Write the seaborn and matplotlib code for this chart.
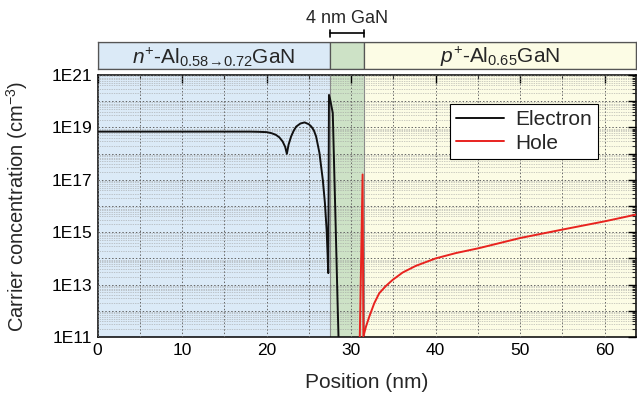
import numpy as np
import pandas as pd
import matplotlib
matplotlib.use("Agg")
import matplotlib.pyplot as plt
import matplotlib.ticker as mticker
import matplotlib.transforms as mtransforms
import seaborn as sns

# ---------------- data ----------------
electron_x = [0, 5, 10, 15, 18, 19, 20.0, 20.6, 21.1, 21.5, 21.9, 22.2, 22.4, 22.6, 22.9,
              23.2, 23.5, 24.0, 24.5, 25.0, 25.3, 25.6, 25.86, 26.25, 26.65, 26.9, 27.1,
              27.2, 27.3, 27.38, 27.5, 27.83, 28.0, 28.2, 28.4, 28.55]
electron_n = [6.9e18, 6.9e18, 6.9e18, 6.9e18, 6.9e18, 6.8e18, 6.6e18, 6.0e18, 5.2e18, 4.2e18,
              2.9e18, 1.8e18, 9.8e17, 2.2e18, 4.5e18, 7.4e18, 1.07e19, 1.41e19, 1.55e19,
              1.32e19, 1.07e19, 7.6e18, 4.5e18, 1.07e18, 1.0e17, 1.3e16, 1.26e15, 2.0e14,
              2.75e13, 1.74e20, 1.26e20, 3.55e19, 2.5e17, 7.9e14, 2.0e12, 3.2e10]

hole_x = [31.0, 31.36, 31.45, 31.76, 32.15, 32.74, 33.33, 34.12, 34.9, 36.1, 37.66, 40.0,
          42.4, 45.1, 50.0, 55.0, 60.0, 63.7]
hole_n = [3.2e10, 1.6e17, 1.05e11, 2.5e11, 6.0e11, 1.95e12, 4.7e12, 8.9e12, 1.5e13, 2.9e13,
          5.2e13, 1.0e14, 1.6e14, 2.45e14, 6.0e14, 1.26e15, 2.6e15, 4.7e15]

regions = ["n", "GaN", "p"]
region_start = [0, 27.5, 31.5]
region_end = [27.5, 31.5, 63.7]
region_labels = [r"$\mathit{n}^{+}$-Al$_{0.58\!\rightarrow\!0.72}$GaN", "",
                 r"$\mathit{p}^{+}$-Al$_{0.65}$GaN"]
region_colors = ["#dbeaf7", "#cde2c6", "#fcfce5"]

x_ticks = [0, 10, 20, 30, 40, 50, 60]
y_label_exps = [11, 13, 15, 17, 19, 21]

# ---------------- style ----------------
sns.set_style("white")
plt.rcParams["font.family"] = ["Liberation Sans", "DejaVu Sans"]
plt.rcParams["mathtext.fontset"] = "custom"
plt.rcParams["mathtext.rm"] = "Liberation Sans"
plt.rcParams["mathtext.it"] = "Liberation Sans:italic"
plt.rcParams["mathtext.bf"] = "Liberation Sans:bold"

fig = plt.figure(figsize=(6.37, 3.99), dpi=100)
fig.patch.set_facecolor("white")

ax = fig.add_axes([0.1531, 0.1554, 0.8453, 0.6566])
bar = fig.add_axes([0.1531, 0.8271, 0.8453, 0.0677])

xmax = region_end[-1]
ax.set_yscale("log")
ax.set_xlim(0, xmax)
ax.set_ylim(1e11, 1e21)

for s, e, c in zip(region_start, region_end, region_colors):
    ax.axvspan(s, e, color=c, zorder=0, lw=0)
    bar.axvspan(s, e, facecolor=c, edgecolor="#555555", lw=0.9, zorder=0)
for xv in region_start[1:]:
    ax.axvline(xv, color="#8a8a8a", lw=0.8, zorder=0.5)

df_e = pd.DataFrame({"Position": electron_x, "n": electron_n, "Carrier": "Electron"})
df_h = pd.DataFrame({"Position": hole_x, "n": hole_n, "Carrier": "Hole"})
df = pd.concat([df_e, df_h], ignore_index=True)

sns.lineplot(data=df, x="Position", y="n", hue="Carrier", units="Carrier", estimator=None,
             sort=False, palette={"Electron": "#111111", "Hole": "#e8231f"},
             lw=1.4, ax=ax, zorder=3)

# ticks
ax.xaxis.set_major_locator(mticker.FixedLocator(x_ticks))
ax.xaxis.set_minor_locator(mticker.MultipleLocator(5))
ax.yaxis.set_major_locator(mticker.LogLocator(base=10, numticks=20))
ax.yaxis.set_minor_locator(mticker.LogLocator(base=10, subs=np.arange(2, 10), numticks=20))
ax.yaxis.set_minor_formatter(mticker.NullFormatter())


def yfmt(v, pos):
    e = int(round(np.log10(v)))
    return f"1E{e}" if e in y_label_exps else ""


ax.yaxis.set_major_formatter(mticker.FuncFormatter(yfmt))
ax.tick_params(which="major", direction="in", length=6, width=1, top=True, right=True,
               labelsize=12.5, colors="black", pad=4)
ax.tick_params(which="minor", direction="in", length=3, width=0.8, top=True, right=True)

# grid
ax.grid(which="both", axis="x", color="#666666", ls=(0, (1.5, 2)), lw=0.7, zorder=1)
ax.grid(which="major", axis="y", color="#666666", ls=(0, (1.5, 2)), lw=0.7, zorder=1)
ax.grid(which="minor", axis="y", color="#9a9a9a", ls=(0, (1, 1.5)), lw=0.5, zorder=1)
ax.set_axisbelow(False)
for l in ax.get_xgridlines() + ax.get_ygridlines():
    l.set_zorder(1)

for sp in ax.spines.values():
    sp.set_color("black")
    sp.set_linewidth(1.1)

ax.set_xlabel("Position (nm)", fontsize=15, labelpad=11)
ax.set_ylabel("Carrier concentration (cm$^{-3}$)", fontsize=14.5, labelpad=15)

leg = ax.legend(loc="upper left", bbox_to_anchor=(0.655, 0.889), borderaxespad=0,
                fontsize=15, frameon=True, fancybox=False, edgecolor="black",
                handlelength=2.3, handletextpad=0.5, borderpad=0.3, labelspacing=0.2,
                title=None)
leg.get_frame().set_linewidth(0.8)
leg.get_frame().set_facecolor("white")
leg.get_frame().set_alpha(1)

# region bar
bar.set_xlim(0, xmax)
bar.set_ylim(0, 1)
bar.set_xticks([])
bar.set_yticks([])
for sp in bar.spines.values():
    sp.set_color("#555555")
    sp.set_linewidth(0.9)
for s, e, t in zip(region_start, region_end, region_labels):
    if t:
        bar.text((s + e) / 2, 0.45, t, ha="center", va="center", fontsize=15)

# bracket above GaN
trans = mtransforms.blended_transform_factory(bar.transData, bar.transAxes)
bx0, bx1 = region_start[1], region_end[1]
bar.plot([bx0, bx1], [1.33, 1.33], color="black", lw=1.2, transform=trans, clip_on=False)
bar.plot([bx0, bx0], [1.2, 1.46], color="black", lw=1.2, transform=trans, clip_on=False)
bar.plot([bx1, bx1], [1.2, 1.46], color="black", lw=1.2, transform=trans, clip_on=False)
bar.text((bx0 + bx1) / 2, 1.55, "4 nm GaN", ha="center", va="bottom", fontsize=13,
         transform=trans, clip_on=False)

fig.savefig("out.png", dpi=100, facecolor="white")
